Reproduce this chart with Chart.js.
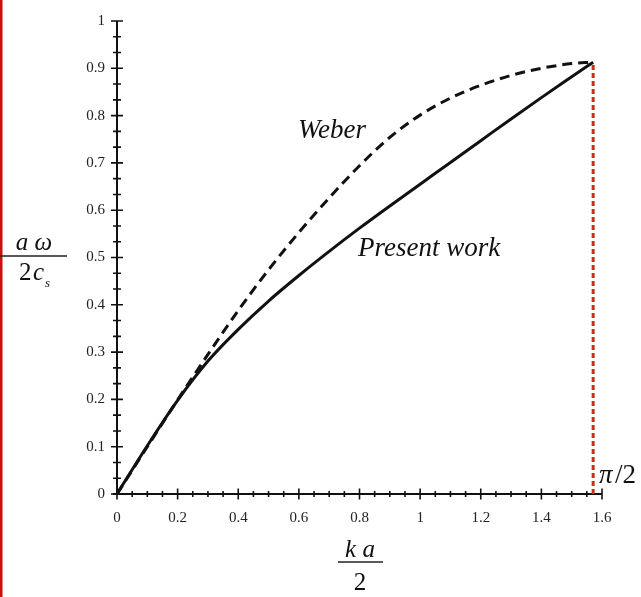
<!DOCTYPE html>
<html><head><meta charset="utf-8">
<script src="https://cdn.jsdelivr.net/npm/chart.js@4/dist/chart.umd.min.js"></script>
<style>html,body{margin:0;padding:0;background:#fff;}#wrap{width:641px;height:597px;position:relative;}</style>
</head><body><div id="wrap"><canvas id="c" width="641" height="597"></canvas></div>
<script>
// ---- data ----
const kaHalf      = [0, 0.1, 0.2, 0.3, 0.4, 0.5, 0.6, 0.7, 0.8, 0.9, 1.0, 1.1, 1.2, 1.3, 1.4, 1.5, 1.5708];
const weber       = [0, 0.100, 0.199, 0.295, 0.388, 0.474, 0.553, 0.626, 0.694, 0.754, 0.801, 0.837, 0.864, 0.885, 0.900, 0.910, 0.913];
const presentWork = [0, 0.102, 0.198, 0.281, 0.348, 0.408, 0.462, 0.513, 0.562, 0.609, 0.655, 0.701, 0.747, 0.793, 0.838, 0.882, 0.913];
const cutoffX     = [1.5708, 1.5708];
const cutoffY     = [0, 0.913];
const xTickValues = [0, 0.2, 0.4, 0.6, 0.8, 1.0, 1.2, 1.4, 1.6];
const xTickLabels = ['0', '0.2', '0.4', '0.6', '0.8', '1', '1.2', '1.4', '1.6'];
const yTickValues = [0, 0.1, 0.2, 0.3, 0.4, 0.5, 0.6, 0.7, 0.8, 0.9, 1.0];
const yTickLabels = ['0', '0.1', '0.2', '0.3', '0.4', '0.5', '0.6', '0.7', '0.8', '0.9', '1'];
const xMinorStep = 0.05;
const yMinorStep = 1 / 30;

const pts = (xs, ys) => xs.map((x, i) => ({x: x, y: ys[i]}));

const SERIF = '"Liberation Serif", "DejaVu Serif", serif';

const decor = {
  id: 'decor',
  beforeDatasetsDraw(chart) {
    const ctx = chart.ctx, xs = chart.scales.x, ys = chart.scales.y;
    const x0 = xs.getPixelForValue(0), y0 = ys.getPixelForValue(0);
    ctx.save();
    ctx.strokeStyle = '#111';
    ctx.lineWidth = 2;
    ctx.beginPath();
    ctx.moveTo(x0, ys.getPixelForValue(1)); ctx.lineTo(x0, y0);
    ctx.moveTo(x0 - 4, y0); ctx.lineTo(xs.getPixelForValue(1.6), y0);
    ctx.stroke();
    ctx.lineWidth = 1.6;
    ctx.beginPath();
    for (let k = 0; k <= 32; k++) {
      const v = k * xMinorStep;
      const major = k % 4 === 0;
      const px = xs.getPixelForValue(v);
      const h = major ? 5.5 : 3;
      ctx.moveTo(px, y0 - h); ctx.lineTo(px, y0 + h);
    }
    for (let k = 0; k <= 30; k++) {
      const v = k * yMinorStep;
      const major = k % 3 === 0;
      const py = ys.getPixelForValue(v);
      const w = major ? 6 : 4;
      ctx.moveTo(x0 - w, py); ctx.lineTo(x0 + w, py);
    }
    ctx.stroke();
    ctx.restore();
  },
  afterDraw(chart) {
    const ctx = chart.ctx;
    ctx.save();
    ctx.fillStyle = '#cc1010';
    ctx.fillRect(0, 0, 2.5, 597);
    ctx.fillStyle = '#111';
    ctx.textBaseline = 'alphabetic';
    ctx.font = 'italic 27px ' + SERIF;
    ctx.textAlign = 'left';
    ctx.fillText('Weber', 298, 138);
    ctx.fillText('Present work', 358, 256);
    ctx.font = 'italic 27px ' + SERIF;
    ctx.fillText('π', 599, 483);
    ctx.font = '27px ' + SERIF;
    ctx.fillText('/2', 615, 483);
    ctx.font = 'italic 25px ' + SERIF;
    ctx.textAlign = 'center';
    ctx.fillText('a ω', 34, 250);
    ctx.lineWidth = 1.4;
    ctx.strokeStyle = '#222';
    ctx.beginPath(); ctx.moveTo(0, 256); ctx.lineTo(67, 256); ctx.stroke();
    ctx.textAlign = 'left';
    ctx.font = '25px ' + SERIF;
    ctx.fillText('2', 19, 280);
    ctx.font = 'italic 25px ' + SERIF;
    ctx.fillText('c', 33, 280);
    ctx.font = 'italic 13px ' + SERIF;
    ctx.fillText('s', 45, 287);
    ctx.textAlign = 'center';
    ctx.font = 'italic 25px ' + SERIF;
    ctx.fillText('k a', 360, 557);
    ctx.beginPath(); ctx.moveTo(338, 562); ctx.lineTo(383, 562); ctx.stroke();
    ctx.font = '25px ' + SERIF;
    ctx.fillText('2', 360, 590);
    ctx.restore();
  }
};

new Chart(document.getElementById('c'), {
  type: 'scatter',
  data: {
    datasets: [
      { label: 'Weber', data: pts(kaHalf, weber), showLine: true, borderColor: '#111', borderWidth: 3,
        borderDash: [10, 6], pointRadius: 0, cubicInterpolationMode: 'monotone', fill: false },
      { label: 'Present work', data: pts(kaHalf, presentWork), showLine: true, borderColor: '#111', borderWidth: 3,
        pointRadius: 0, cubicInterpolationMode: 'monotone', fill: false },
      { label: 'cutoff', data: pts(cutoffX, cutoffY), showLine: true, borderColor: '#dd2222', borderWidth: 3,
        borderDash: [5, 3], pointRadius: 0, fill: false }
    ]
  },
  options: {
    responsive: false, animation: false, devicePixelRatio: 1,
    layout: { padding: { left: 0, top: 12, right: 39, bottom: 0 } },
    plugins: { legend: { display: false }, tooltip: { enabled: false } },
    scales: {
      x: {
        type: 'linear', min: 0, max: 1.6,
        grid: { display: false, drawTicks: false, tickLength: 0 }, border: { display: false },
        afterBuildTicks: s => { s.ticks = xTickValues.map(v => ({ value: v })); },
        afterFit: s => { s.height = 103; },
        ticks: { padding: 15, color: '#222', font: { family: SERIF, size: 15 }, maxRotation: 0,
          callback: (v, i) => xTickLabels[i] }
      },
      y: {
        type: 'linear', min: 0, max: 1,
        grid: { display: false, drawTicks: false, tickLength: 0 }, border: { display: false },
        afterBuildTicks: s => { s.ticks = yTickValues.map(v => ({ value: v })); },
        afterFit: s => { s.width = 117; },
        ticks: { padding: 12, color: '#222', font: { family: SERIF, size: 15 },
          callback: (v, i) => yTickLabels[i] }
      }
    }
  },
  plugins: [decor]
});
</script></body></html>
